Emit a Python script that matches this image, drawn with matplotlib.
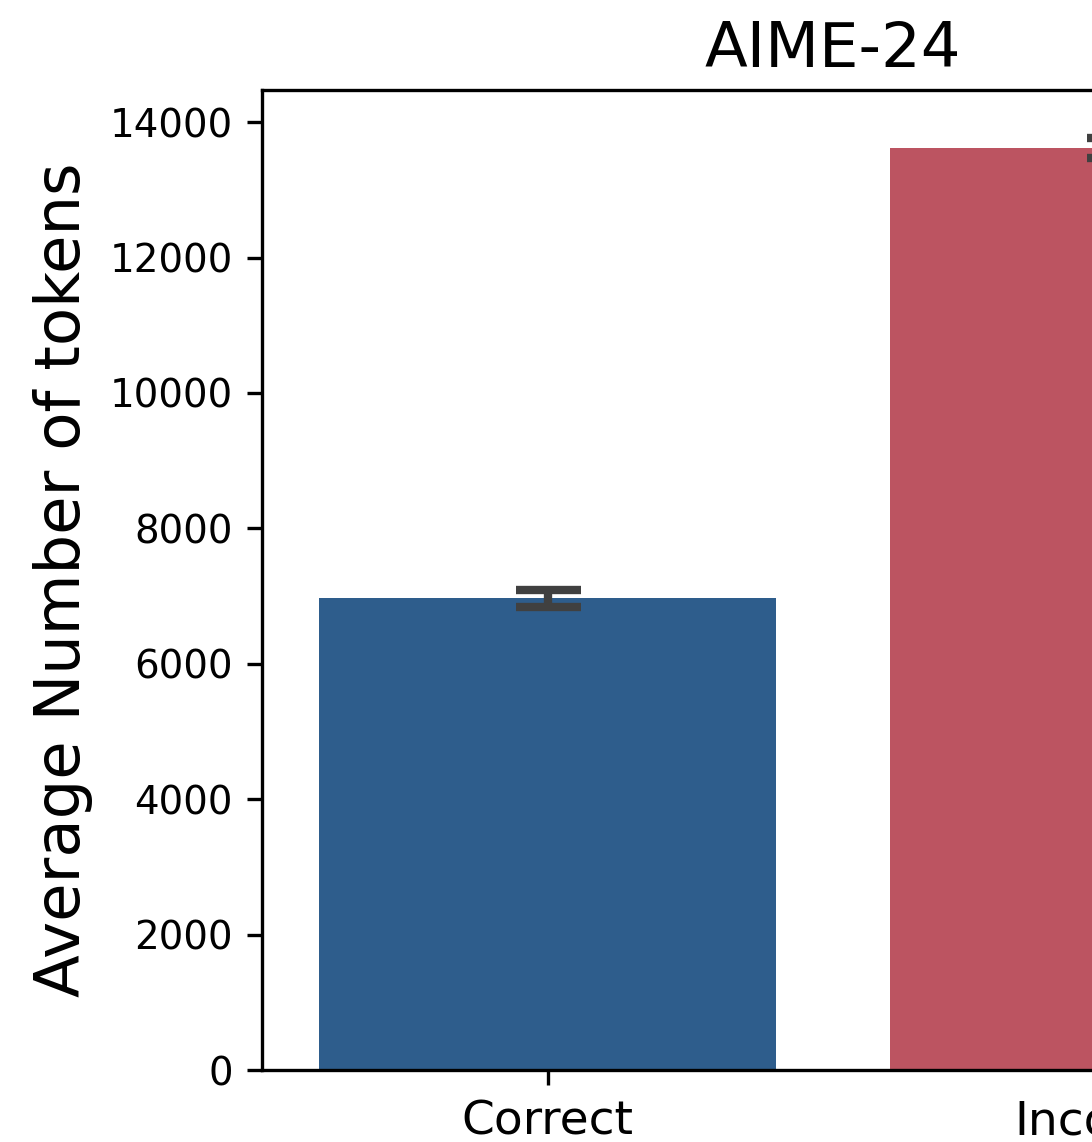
import matplotlib
matplotlib.use("Agg")
import matplotlib.pyplot as plt

categories = ["Correct", "Incorrect"]
avg_tokens = [6970, 13620]
errors = [125, 150]
bar_colors = ["#2e5d8c", "#bc5461"]

fig = plt.figure(figsize=(1092 / 300, 1142 / 300), dpi=300)
# the axes runs past the right edge of the figure, as in the reference crop
ax = fig.add_axes([262 / 1092, 72 / 1142, 1142 / 1092, 980 / 1142])

x = range(len(categories))
ax.bar(x, avg_tokens, width=0.8, color=bar_colors)
ax.errorbar(x, avg_tokens, yerr=errors, fmt="none", ecolor="#404040",
            elinewidth=2, capsize=7.8, capthick=2)

ax.set_xlim(-0.5, 1.5)
ax.set_ylim(0, 14475)
ax.set_xticks(list(x))
ax.set_xticklabels(categories, fontsize=11.3)
ax.tick_params(axis="y", labelsize=9.3)
ax.set_ylabel("Average Number of tokens", fontsize=15)
ax.set_title("AIME-24", fontsize=15, pad=5.5)

fig.savefig("out.png", dpi=300)
